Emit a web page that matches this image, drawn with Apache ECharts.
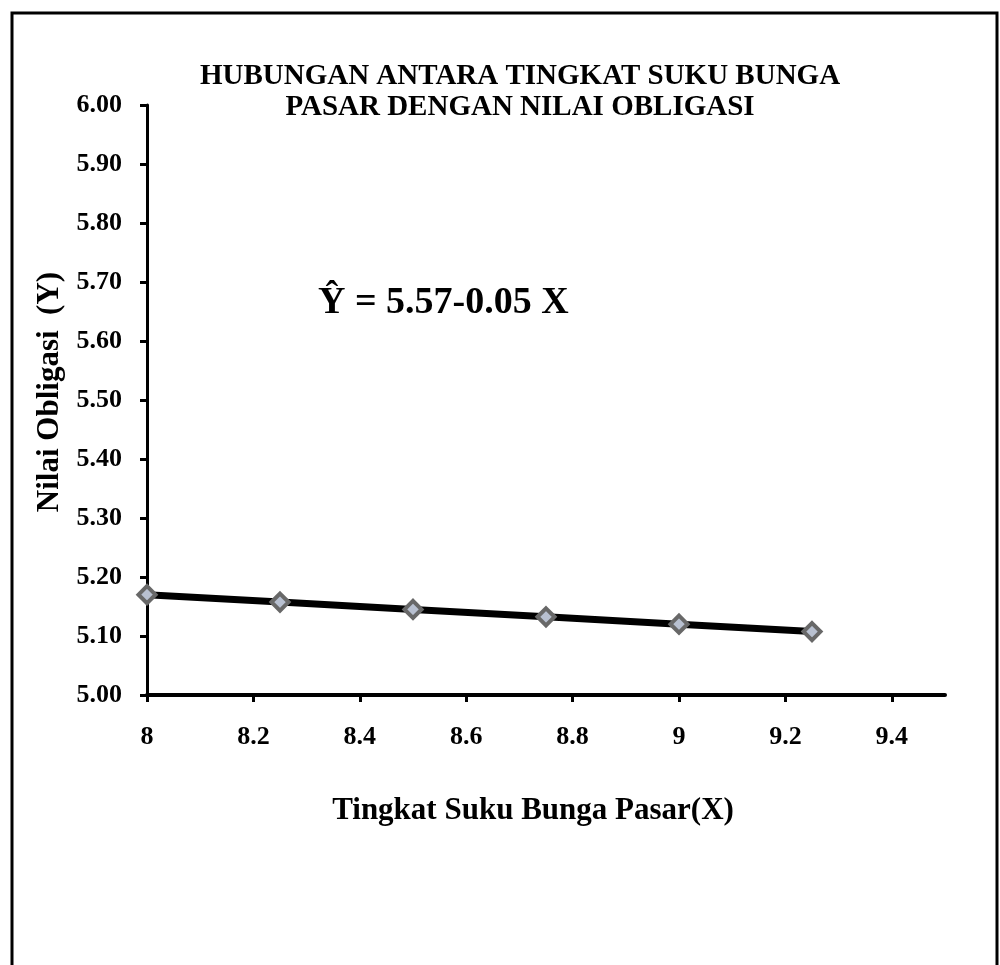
<!DOCTYPE html>
<html>
<head>
<meta charset="utf-8">
<script src="https://cdn.jsdelivr.net/npm/echarts@6/dist/echarts.min.js"></script>
<style>
  html, body { margin: 0; padding: 0; background: #fff; }
  #chart { width: 1000px; height: 965px; }
</style>
</head>
<body>
<div id="chart"></div>
<script>
// Market interest rate (X) and bond value (Y), Ŷ = 5.57 - 0.05 X
const rates = [8, 8.25, 8.5, 8.75, 9, 9.25];
const bondValues = [5.17, 5.1575, 5.145, 5.1325, 5.12, 5.1075];
const xTicks = [8, 8.2, 8.4, 8.6, 8.8, 9, 9.2, 9.4];

const titleLines = ['HUBUNGAN ANTARA TINGKAT SUKU BUNGA', 'PASAR DENGAN NILAI OBLIGASI'];
const xName = 'Tingkat Suku Bunga Pasar(X)';
const yName = 'Nilai Obligasi  (Y)';
const equation = 'Ŷ = 5.57-0.05 X';

const serif = '"Liberation Serif", "Times New Roman", serif';
const chart = echarts.init(document.getElementById('chart'));

chart.setOption({
  backgroundColor: '#fff',
  animation: false,
  title: {
    text: titleLines.join('\n'),
    left: 515,
    top: 56,
    textAlign: 'center',
    textStyle: { fontFamily: serif, fontWeight: 'bold', fontSize: 29, lineHeight: 31, color: '#000' }
  },
  grid: { left: 147, right: 55, top: 105, bottom: 270 },
  xAxis: {
    type: 'value',
    min: 8,
    max: 9.5,
    name: xName,
    nameLocation: 'middle',
    nameGap: 100,
    nameTextStyle: {
      fontFamily: serif, fontWeight: 'bold', fontSize: 31, color: '#000',
      padding: [0, 26, 0, 0]
    },
    splitLine: { show: false },
    axisLine: { show: true, onZero: false, lineStyle: { color: '#000', width: 4 } },
    axisTick: { show: true, length: 7, customValues: xTicks, lineStyle: { color: '#000', width: 3 } },
    axisLabel: {
      customValues: xTicks,
      margin: 29,
      fontFamily: serif, fontWeight: 'bold', fontSize: 26, color: '#000',
      formatter: v => String(Math.round(v * 10) / 10)
    }
  },
  yAxis: {
    type: 'value',
    min: 5,
    max: 6,
    interval: 0.1,
    name: yName,
    nameLocation: 'middle',
    nameGap: 82,
    nameRotate: 90,
    nameTextStyle: {
      fontFamily: serif, fontWeight: 'bold', fontSize: 31, color: '#000',
      padding: [0, 0, 0, 16]
    },
    splitLine: { show: false },
    axisLine: { show: true, onZero: false, lineStyle: { color: '#000', width: 3 } },
    axisTick: { show: true, length: 7, lineStyle: { color: '#000', width: 3 } },
    axisLabel: {
      margin: 25,
      fontFamily: serif, fontWeight: 'bold', fontSize: 26, color: '#000',
      formatter: v => v.toFixed(2)
    }
  },
  series: [{
    type: 'line',
    data: rates.map((x, i) => [x, bondValues[i]]),
    clip: false,
    symbol: 'diamond',
    symbolSize: 17,
    showAllSymbol: true,
    lineStyle: { color: '#000', width: 7 },
    itemStyle: { color: '#b8c0d0', borderColor: '#686868', borderWidth: 4 },
    z: 3
  }],
  graphic: [
    {
      type: 'rect',
      shape: { x: 12, y: 13, width: 985, height: 980 },
      style: { fill: null, stroke: '#000', lineWidth: 3 },
      silent: true
    },
    {
      type: 'text',
      left: 318,
      top: 284,
      style: { text: equation, fontFamily: serif, fontWeight: 'bold', fontSize: 38, fill: '#000' }
    }
  ]
});
</script>
</body>
</html>
